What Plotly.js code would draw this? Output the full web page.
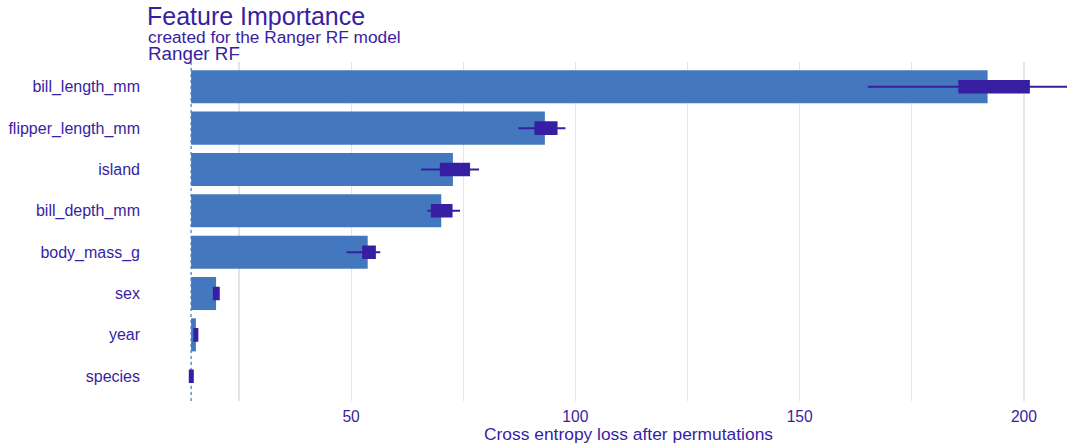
<!DOCTYPE html>
<html>
<head>
<meta charset="utf-8">
<script src="https://cdn.plot.ly/plotly-3.0.1.min.js"></script>
<style>
  html, body { margin: 0; padding: 0; background: #ffffff; }
  #chart { width: 1067px; height: 444px; }
</style>
</head>
<body>
<div id="chart"></div>
<script>
// Permutation-based variable importance for the Ranger RF model
const features = ['bill_length_mm', 'flipper_length_mm', 'island', 'bill_depth_mm',
                  'body_mass_g', 'sex', 'year', 'species'];

// loss of the full model (all variables intact)
const fullModelLoss = 14.33;

// mean loss after permuting each variable
const meanLoss = [191.9, 93.2, 72.7, 70.1, 53.7, 19.9, 15.4, 14.35];

// spread of the loss over the permutation rounds
const lossMin    = [165.2, 87.3, 65.6, 67.0, 49.0, 19.2, 15.0, 14.0];
const lossQ1     = [185.6, 91.1, 70.0, 68.0, 52.7, 19.4, 15.07, 14.04];
const lossMedian = [192.0, 93.0, 72.5, 70.0, 53.8, 19.9, 15.4, 14.3];
const lossQ3     = [201.1, 95.8, 76.3, 72.4, 55.3, 20.5, 15.73, 14.71];
const lossMax    = [212.0, 97.8, 78.5, 74.3, 56.5, 20.7, 15.8, 14.75];

const xTickVals = [50, 100, 150, 200];

const textColor = '#371ea3';
const barColor = '#4378bf';
const gridColor = '#e4e4e4';
const fontFamily = 'Liberation Sans, Arial, Helvetica, sans-serif';

const bars = {
  type: 'bar',
  orientation: 'h',
  y: features,
  base: features.map(() => fullModelLoss),
  x: meanLoss.map(v => v - fullModelLoss),
  width: 0.8,
  marker: { color: barColor, line: { width: 0 } },
  hoverinfo: 'skip',
  showlegend: false
};

const boxes = {
  type: 'box',
  orientation: 'h',
  y: features,
  lowerfence: lossMin,
  q1: lossQ1,
  median: lossMedian,
  q3: lossQ3,
  upperfence: lossMax,
  width: 0.28,
  whiskerwidth: 0,
  boxpoints: false,
  fillcolor: textColor,
  line: { color: textColor, width: 2 },
  hoverinfo: 'skip',
  showlegend: false
};

const layout = {
  width: 1067,
  height: 444,
  margin: { l: 147, r: 0, t: 62, b: 43 },
  paper_bgcolor: '#ffffff',
  plot_bgcolor: '#ffffff',
  font: { family: fontFamily, color: textColor, size: 15 },
  barmode: 'overlay',
  boxmode: 'overlay',
  title: {
    text: 'Feature Importance',
    font: { size: 25, color: textColor, family: fontFamily },
    xref: 'paper', x: 0, xanchor: 'left',
    yref: 'container', y: 0.964, yanchor: 'middle'
  },
  xaxis: {
    range: [4.5, 209.6],
    tickvals: xTickVals,
    showgrid: true,
    gridcolor: gridColor,
    gridwidth: 1.2,
    minor: { tick0: 25, dtick: 50, showgrid: true, gridcolor: gridColor, gridwidth: 1.2 },
    zeroline: false,
    showline: false,
    ticks: '',
    ticklabelstandoff: 4,
    tickfont: { size: 15.6, color: textColor },
    fixedrange: true
  },
  yaxis: {
    type: 'category',
    categoryorder: 'array',
    categoryarray: features.slice().reverse(),
    range: [-0.6, 7.6],
    showgrid: false,
    zeroline: false,
    showline: false,
    ticks: '',
    ticklabelstandoff: 6,
    tickfont: { size: 16, color: textColor },
    fixedrange: true
  },
  shapes: [{
    type: 'line',
    xref: 'x', yref: 'paper',
    x0: fullModelLoss, x1: fullModelLoss, y0: 0, y1: 1,
    line: { color: barColor, width: 1.2, dash: 'dot' },
    layer: 'below'
  }],
  annotations: [
    {
      text: 'created for the Ranger RF model',
      xref: 'paper', yref: 'paper', x: 0, y: 1.0737, xshift: -1,
      xanchor: 'left', yanchor: 'middle', showarrow: false,
      font: { size: 17.3, color: textColor }
    },
    {
      text: 'Ranger RF',
      xref: 'paper', yref: 'paper', x: 0, y: 1.0236, xshift: -1,
      xanchor: 'left', yanchor: 'middle', showarrow: false,
      font: { size: 18.8, color: textColor }
    },
    {
      // x-axis title, centred on the full (wider) panel
      text: 'Cross entropy loss after permutations',
      xref: 'paper', yref: 'paper', x: 0.5234, y: -0.0973,
      xanchor: 'center', yanchor: 'middle', showarrow: false,
      font: { size: 17.4, color: textColor }
    }
  ]
};

Plotly.newPlot('chart', [bars, boxes], layout, { displayModeBar: false, staticPlot: true });
</script>
</body>
</html>
